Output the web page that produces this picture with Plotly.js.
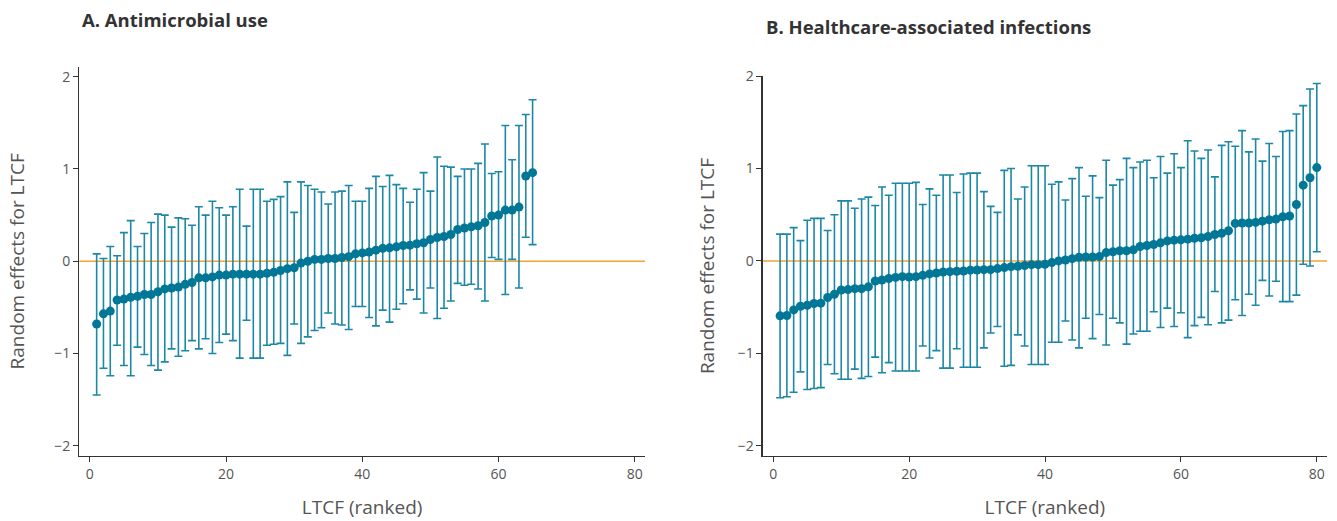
<!DOCTYPE html>
<html>
<head>
<meta charset="utf-8">
<script src="https://cdn.plot.ly/plotly-3.0.1.min.js"></script>
<style>
html,body{margin:0;padding:0;background:#fff;}
#chart{width:1337px;height:521px;}
</style>
</head>
<body>
<div id="chart"></div>
<script>
// Panel A: Antimicrobial use (65 LTCFs, ranked)
const rankA = Array.from({length: 65}, (_, i) => i + 1);
const estA = [-0.68,-0.57,-0.54,-0.42,-0.41,-0.39,-0.38,-0.36,-0.36,-0.33,
  -0.30,-0.29,-0.28,-0.25,-0.23,-0.18,-0.18,-0.17,-0.15,-0.15,
  -0.14,-0.14,-0.14,-0.14,-0.14,-0.13,-0.12,-0.10,-0.08,-0.07,
  -0.02,0.00,0.02,0.02,0.03,0.03,0.04,0.05,0.08,0.09,
  0.10,0.12,0.14,0.145,0.156,0.17,0.174,0.19,0.20,0.235,
  0.257,0.268,0.29,0.344,0.36,0.373,0.384,0.42,0.49,0.50,
  0.554,0.554,0.587,0.924,0.96];
const upA = [0.08,0.03,0.16,0.06,0.31,0.44,0.16,0.30,0.42,0.51,
  0.50,0.37,0.47,0.46,0.39,0.59,0.50,0.65,0.58,0.50,
  0.59,0.78,0.38,0.78,0.78,0.65,0.67,0.70,0.86,0.53,
  0.86,0.82,0.78,0.75,0.62,0.75,0.76,0.82,0.65,0.65,
  0.79,0.92,0.81,0.93,0.83,0.79,0.64,0.78,0.96,0.76,
  1.13,1.03,1.02,0.92,1.00,1.00,1.06,1.27,0.95,0.97,
  1.47,1.10,1.47,1.59,1.75];
const loA = [-1.45,-1.16,-1.24,-0.91,-1.13,-1.24,-0.93,-1.01,-1.13,-1.18,
  -1.09,-0.95,-1.03,-0.97,-0.86,-0.95,-0.84,-1.00,-0.88,-0.79,
  -0.86,-1.05,-0.64,-1.05,-1.05,-0.91,-0.90,-0.89,-1.02,-0.68,
  -0.89,-0.82,-0.75,-0.72,-0.56,-0.68,-0.69,-0.74,-0.49,-0.49,
  -0.61,-0.70,-0.53,-0.66,-0.52,-0.46,-0.31,-0.41,-0.56,-0.29,
  -0.62,-0.51,-0.43,-0.24,-0.26,-0.25,-0.30,-0.43,0.04,0.02,
  -0.36,0.02,-0.29,0.26,0.18];

// Panel B: Healthcare-associated infections (80 LTCFs, ranked)
const rankB = Array.from({length: 80}, (_, i) => i + 1);
const estB = [-0.594,-0.59,-0.53,-0.49,-0.48,-0.46,-0.457,-0.395,-0.36,-0.315,
  -0.31,-0.30,-0.30,-0.28,-0.217,-0.206,-0.19,-0.178,-0.17,-0.174,
  -0.17,-0.156,-0.14,-0.13,-0.12,-0.116,-0.112,-0.109,-0.10,-0.098,
  -0.094,-0.094,-0.083,-0.072,-0.062,-0.058,-0.05,-0.04,-0.04,-0.036,
  -0.018,0.00,0.01,0.025,0.04,0.043,0.043,0.047,0.09,0.10,
  0.11,0.11,0.12,0.156,0.167,0.178,0.196,0.217,0.225,0.228,
  0.236,0.246,0.25,0.264,0.286,0.30,0.326,0.406,0.41,0.41,
  0.417,0.43,0.446,0.453,0.478,0.486,0.61,0.82,0.90,1.01];
const upB = [0.29,0.29,0.36,0.22,0.44,0.46,0.46,0.33,0.50,0.65,
  0.65,0.57,0.67,0.69,0.60,0.80,0.71,0.84,0.84,0.84,
  0.85,0.61,0.78,0.71,0.93,0.93,0.74,0.94,0.95,0.95,
  0.75,0.59,0.525,0.98,1.00,0.67,0.80,1.03,1.03,1.03,
  0.83,0.855,0.66,0.89,1.01,0.70,0.92,0.685,1.09,0.82,
  0.88,1.11,1.01,1.07,1.09,0.90,1.13,0.95,1.16,1.01,
  1.30,1.19,1.11,1.20,0.91,1.25,1.29,1.24,1.41,1.18,
  1.32,1.08,1.27,1.13,1.40,1.41,1.59,1.68,1.86,1.92];
const loB = [-1.48,-1.47,-1.42,-1.20,-1.39,-1.38,-1.37,-1.12,-1.22,-1.28,
  -1.28,-1.17,-1.27,-1.25,-1.04,-1.21,-1.10,-1.19,-1.19,-1.19,
  -1.19,-0.92,-1.05,-0.97,-1.16,-1.16,-0.95,-1.15,-1.15,-1.15,
  -0.94,-0.78,-0.71,-1.14,-1.13,-0.80,-0.92,-1.12,-1.12,-1.12,
  -0.88,-0.88,-0.65,-0.855,-0.94,-0.62,-0.84,-0.58,-0.91,-0.62,
  -0.67,-0.90,-0.79,-0.76,-0.76,-0.55,-0.72,-0.51,-0.71,-0.56,
  -0.83,-0.70,-0.61,-0.69,-0.33,-0.67,-0.64,-0.42,-0.59,-0.36,
  -0.48,-0.21,-0.38,-0.22,-0.44,-0.44,-0.37,-0.036,-0.054,0.10];

const xTicks = [0, 20, 40, 60, 80];
const yTicks = [-2, -1, 0, 1, 2];
const refValue = 0;

const markerColor = '#007796';
const barColor = '#1d87a6';
const refColor = '#f2a530';

function trace(x, y, lo, up, xa, ya) {
  return {
    type: 'scatter', mode: 'markers', x: x, y: y, xaxis: xa, yaxis: ya,
    marker: {color: markerColor, size: 9},
    error_y: {type: 'data', symmetric: false,
      array: up.map((u, i) => u - y[i]),
      arrayminus: lo.map((l, i) => y[i] - l),
      color: barColor, thickness: 1.6, width: 4},
    showlegend: false, hoverinfo: 'x+y'
  };
}

const fam = 'Open Sans, Lato, sans-serif';
const tickFont = {family: fam, size: 14, color: '#555'};
const titleFont = {family: fam, size: 19, color: '#555'};

function xax(domain, anchor) {
  return {domain: domain, anchor: anchor, range: [-1.55, 81.5], tickvals: xTicks, ticktext: xTicks.map(String),
    showgrid: false, zeroline: false, showline: true, linecolor: '#333', linewidth: 1.3,
    ticks: 'outside', ticklen: 5, tickcolor: '#333', tickfont: tickFont,
    title: {text: 'LTCF (ranked)', font: titleFont, standoff: 18}, automargin: false};
}
function yax(domain, range, anchor, standoff) {
  return {domain: domain, range: range, anchor: anchor, tickvals: yTicks,
    showgrid: false, zeroline: false,
    showline: true, linecolor: '#333', linewidth: 1.3,
    ticks: 'outside', ticklen: 5, tickcolor: '#333', tickfont: tickFont,
    title: {text: 'Random effects for LTCF', font: titleFont, standoff: standoff}, automargin: false};
}

function refLine(xref, yref) {
  return {type: 'line', xref: xref + ' domain', yref: yref, x0: 0, x1: 1, y0: refValue, y1: refValue,
    line: {color: refColor, width: 1.4}, layer: 'below'};
}

const layout = {
  width: 1337, height: 521,
  margin: {l: 0, r: 0, t: 0, b: 0},
  paper_bgcolor: '#fff', plot_bgcolor: '#fff',
  xaxis: xax([0.0593, 0.4824], 'y'),
  yaxis: yax([0.1248, 0.872], [-2.11, 2.108], 'x', 24),
  xaxis2: xax([0.5705, 0.9925], 'y2'),
  yaxis2: yax([0.1248, 0.854], [-2.11, 2.0], 'x2', 18),
  shapes: [refLine('x', 'y'), refLine('x2', 'y2')],
  annotations: [
    {text: '<b>A. Antimicrobial use</b>', xref: 'paper', yref: 'paper', x: 80/1337, y: 1 - 20/521,
     xanchor: 'left', yanchor: 'middle', showarrow: false,
     font: {family: fam, size: 18.5, color: '#333'}},
    {text: '<b>B. Healthcare-associated infections</b>', xref: 'paper', yref: 'paper', x: 764/1337, y: 1 - 27/521,
     xanchor: 'left', yanchor: 'middle', showarrow: false,
     font: {family: fam, size: 18.5, color: '#333'}}
  ]
};

Plotly.newPlot('chart', [
  trace(rankA, estA, loA, upA, 'x', 'y'),
  trace(rankB, estB, loB, upB, 'x2', 'y2')
], layout, {displayModeBar: false, staticPlot: true});
</script>
</body>
</html>
